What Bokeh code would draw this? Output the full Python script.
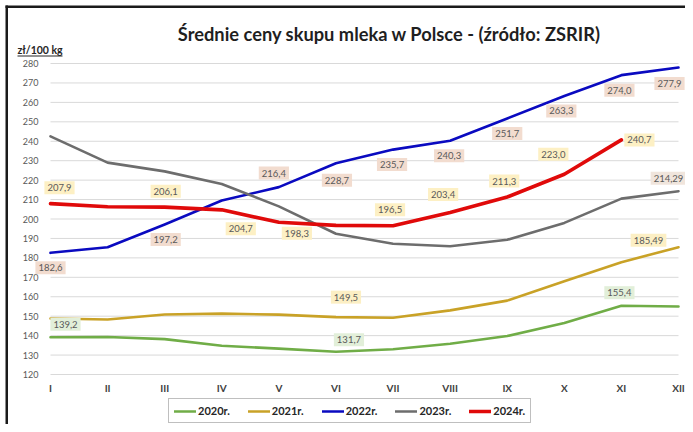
from bokeh.plotting import figure
from bokeh.models import Range1d, FixedTicker, Label, Legend, LegendItem, BoxAnnotation
from bokeh.embed import file_html
from bokeh.resources import INLINE

NaN = float("nan")

# ---- data ----
months = ["I", "II", "III", "IV", "V", "VI", "VII", "VIII", "IX", "X", "XI", "XII"]
y2020 = [139.2, 139.3, 138.2, 134.8, 133.3, 131.7, 133.0, 135.8, 139.8, 146.5, 155.4, 155.0]
y2021 = [148.8, 148.3, 150.9, 151.3, 150.8, 149.5, 149.2, 153.0, 158.0, 168.0, 177.8, 185.49]
y2022 = [182.6, 185.5, 197.2, 209.5, 216.4, 228.7, 235.7, 240.3, 251.7, 263.3, 274.0, 277.9]
y2023 = [242.5, 229.0, 224.5, 218.0, 206.5, 192.4, 187.3, 186.0, 189.3, 198.0, 210.5, 214.29]
y2024 = [207.9, 206.3, 206.1, 204.7, 198.3, 196.7, 196.5, 203.4, 211.3, 223.0, 240.7, NaN]
series_names = ["2020r.", "2021r.", "2022r.", "2023r.", "2024r."]
y_ticks = list(range(120, 281, 10))

# which points carry a value label (month index -> decimals)
labelled = {
    "2020r.": {0: 1, 5: 1, 10: 1},
    "2021r.": {5: 1, 11: 2},
    "2022r.": {0: 1, 2: 1, 4: 1, 5: 1, 6: 1, 7: 1, 8: 1, 9: 1, 10: 1, 11: 1},
    "2023r.": {11: 2},
    "2024r.": {0: 1, 2: 1, 3: 1, 4: 1, 6: 1, 7: 1, 8: 1, 9: 1, 10: 1},
}

# ---- styling / placement (label offsets in screen px, y up) ----
colors = ["#70ad47", "#c9a227", "#0a0ac0", "#6d6d6d", "#e00a0a"]
widths = [2.6, 2.6, 2.6, 2.6, 3.6]
label_bg = ["#e2efd9", "#fcefc4", "#f2dccf", "#f0e5dc", "#fdf0c4"]
offsets = {
    "2020r.": {0: (15, 13), 5: (13, 12), 10: (-2, 13)},
    "2021r.": {5: (10, 20), 11: (-30, 7)},
    "2022r.": {0: (0, -15), 2: (1, -15), 4: (-5, 14), 5: (1, -17), 6: (-1, -15),
               7: (-1, -15), 8: (0, -15), 9: (-3, -15), 10: (-2, -15), 11: (-9, -16)},
    "2023r.": {11: (-10, 13)},
    "2024r.": {0: (9, 16), 2: (1, 16), 3: (19, -19), 4: (18, -11), 6: (-3, 16),
               7: (-7, 18), 8: (-3, 16), 9: (-11, 20), 10: (18, 0)},
}

FONT = "Lato"
W, H = 685, 424
# pixel targets on the canvas: month I at x=50, XII at x=678; 280 at y=63, 120 at y=374
px_x = (678 - 50) / 11.0
px_y = (374 - 63) / 160.0
x_start = 1 - 50 / px_x
x_end = 12 + (W - 678) / px_x
y_start = 120 - (H - 374) / px_y
y_end = 280 + 63 / px_y

xs = list(range(1, len(months) + 1))

p = figure(width=W, height=H, output_backend="svg", toolbar_location=None,
           x_range=Range1d(x_start, x_end), y_range=Range1d(y_start, y_end),
           min_border_left=0, min_border_right=0, min_border_top=0, min_border_bottom=0)
p.outline_line_color = None
p.background_fill_color = "white"
p.border_fill_color = "white"

# chart-area border (left and top edges)
for kw in (dict(left=5, right=7.5, bottom=0, top=H - 5),
           dict(left=5, right=W, bottom=H - 7.5, top=H - 5)):
    p.add_layout(BoxAnnotation(left_units="screen", right_units="screen",
                               bottom_units="screen", top_units="screen",
                               fill_color="#1a1a1a", fill_alpha=1, line_color=None, **kw))

p.xgrid.grid_line_color = None
p.ygrid.grid_line_color = None
# horizontal gridlines spanning the month range only
p.segment(x0=[xs[0]] * len(y_ticks), x1=[xs[-1]] * len(y_ticks), y0=y_ticks, y1=y_ticks,
          line_color="#d9d9d9", line_width=1)

p.xaxis.ticker = FixedTicker(ticks=xs)
p.xaxis.major_label_overrides = {i: m for i, m in zip(xs, months)}
p.xaxis.fixed_location = y_ticks[0]
p.yaxis.ticker = FixedTicker(ticks=y_ticks)
p.yaxis.fixed_location = xs[0]
for ax in (p.xaxis, p.yaxis):
    ax.axis_line_color = None
    ax.major_tick_line_color = None
    ax.minor_tick_line_color = None
    ax.major_tick_out = 0
    ax.major_tick_in = 0
    ax.major_label_text_font = FONT
p.yaxis.major_label_text_font_size = "9px"
p.yaxis.major_label_text_color = "#595959"
p.yaxis.major_label_standoff = 12
p.xaxis.major_label_text_font_size = "10px"
p.xaxis.major_label_text_font_style = "bold"
p.xaxis.major_label_text_color = "#404040"
p.xaxis.major_label_standoff = 7

all_series = [y2020, y2021, y2022, y2023, y2024]
renderers = []
for name, ys, c, w in zip(series_names, all_series, colors, widths):
    r = p.line(xs, ys, line_color=c, line_width=w, line_join="round", line_cap="round")
    renderers.append(r)

for name, ys, bg in zip(series_names, all_series, label_bg):
    for idx, dec in labelled[name].items():
        v = ys[idx]
        txt = f"{v:.{dec}f}".replace(".", ",")
        dx, dy = offsets[name][idx]
        p.add_layout(Label(x=xs[idx], y=v, text=txt, x_offset=dx, y_offset=dy,
                           text_font=FONT, text_font_size="9.5px", text_color="#595959",
                           text_align="center", text_baseline="middle",
                           background_fill_color=bg, padding=3))

p.add_layout(Label(x=389, y=H - 33, x_units="screen", y_units="screen",
                   text="Średnie ceny skupu mleka w Polsce - (źródło: ZSRIR)",
                   text_font=FONT, text_font_size="18.3px", text_font_style="bold",
                   text_color="#1f1f1f", text_align="center", text_baseline="middle"))
p.add_layout(Label(x=17, y=H - 49, x_units="screen", y_units="screen",
                   text="zł/100 kg", text_font=FONT, text_font_size="10.5px",
                   text_font_style="bold", text_color="#262626",
                   text_align="left", text_baseline="middle"))
p.add_layout(BoxAnnotation(left=17, right=62, bottom=H - 56, top=H - 55,
                           left_units="screen", right_units="screen",
                           bottom_units="screen", top_units="screen",
                           fill_color="#262626", fill_alpha=1, line_color=None))

legend = Legend(items=[LegendItem(label=n, renderers=[r]) for n, r in zip(series_names, renderers)],
                location=(168, 1), orientation="horizontal",
                label_text_font=FONT, label_text_font_size="11px", label_text_font_style="bold",
                label_text_color="#262626", glyph_width=22, glyph_height=12, label_height=12,
                label_standoff=2, spacing=18, padding=5, margin=0,
                border_line_color="#808080", border_line_width=1, background_fill_color="white")
p.add_layout(legend)

open("out.html", "w").write(file_html(p, INLINE))
